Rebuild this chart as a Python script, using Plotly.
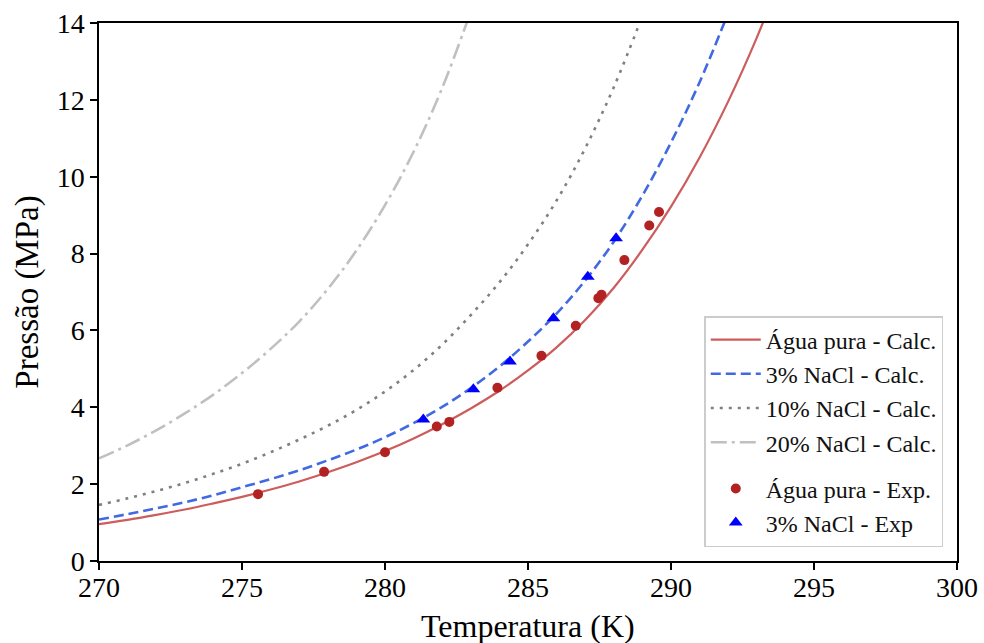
import plotly.graph_objects as go

# Calculated hydrate equilibrium curves (temperature in K, pressure in MPa)
T_agua_calc = [270, 271, 272, 273, 274, 275, 276, 277, 278, 279, 280, 281, 282,
               283, 284, 285, 286, 287, 288, 289, 290, 291, 292, 293, 294]
P_agua_calc = [0.96, 1.07, 1.20, 1.34, 1.50, 1.67, 1.86, 2.07, 2.31, 2.57, 2.86,
               3.19, 3.56, 3.97, 4.43, 4.96, 5.56, 6.27, 7.11, 8.10, 9.22, 10.50,
               11.96, 13.62, 15.50]

T_nacl3_calc = [270, 271, 272, 273, 274, 275, 276, 277, 278, 279, 280, 281, 282,
                283, 284, 285, 286, 287, 288, 289, 290, 291, 292]
P_nacl3_calc = [1.08, 1.22, 1.37, 1.53, 1.71, 1.92, 2.13, 2.36, 2.62, 2.90, 3.22,
                3.59, 4.01, 4.50, 5.06, 5.71, 6.44, 7.30, 8.31, 9.51, 10.89,
                12.46, 14.26]

T_nacl10_calc = [270, 271, 272, 273, 274, 275, 276, 277, 278, 279, 280, 281, 282,
                 283, 284, 285, 286, 287, 288, 289]
P_nacl10_calc = [1.46, 1.63, 1.82, 2.03, 2.27, 2.53, 2.83, 3.16, 3.52, 3.93, 4.41,
                 4.97, 5.63, 6.40, 7.25, 8.24, 9.38, 10.74, 12.33, 14.18]

T_nacl20_calc = [270, 271, 272, 273, 274, 275, 276, 277, 278, 279, 280, 281, 282, 283]
P_nacl20_calc = [2.67, 3.01, 3.40, 3.84, 4.33, 4.89, 5.52, 6.23, 7.08, 8.08, 9.26,
                 10.65, 12.31, 14.30]

# Experimental points
T_agua_exp = [275.56, 277.87, 280.0, 281.81, 282.25, 283.93, 285.47, 286.67,
              287.46, 287.57, 288.37, 289.24, 289.58]
P_agua_exp = [1.74, 2.32, 2.83, 3.50, 3.62, 4.51, 5.34, 6.12, 6.84, 6.93, 7.83,
              8.73, 9.08]

T_nacl3_exp = [281.34, 283.09, 284.37, 285.89, 287.09, 288.08]
P_nacl3_exp = [3.68, 4.47, 5.19, 6.32, 7.40, 8.40]

FONT = "Liberation Serif"

fig = go.Figure()

fig.add_trace(go.Scatter(
    x=T_agua_calc, y=P_agua_calc, mode="lines", name="Água pura - Calc.",
    line=dict(color="#CD5C5C", width=2.2, shape="spline"),
    legendgroup="calc"))
fig.add_trace(go.Scatter(
    x=T_nacl3_calc, y=P_nacl3_calc, mode="lines", name="3% NaCl - Calc.",
    line=dict(color="#4169E1", width=2.6, dash="10px,5px", shape="spline"),
    legendgroup="calc"))
fig.add_trace(go.Scatter(
    x=T_nacl10_calc, y=P_nacl10_calc, mode="lines", name="10% NaCl - Calc.",
    line=dict(color="#808080", width=2.6, dash="3px,6px", shape="spline"),
    legendgroup="calc"))
fig.add_trace(go.Scatter(
    x=T_nacl20_calc, y=P_nacl20_calc, mode="lines", name="20% NaCl - Calc.",
    line=dict(color="#C0C0C0", width=2.6, dash="16px,5px,3px,5px", shape="spline"),
    legendgroup="calc"))
fig.add_trace(go.Scatter(
    x=T_agua_exp, y=P_agua_exp, mode="markers", name="Água pura - Exp.",
    marker=dict(color="#B22222", size=10, symbol="circle"),
    legendgroup="exp"))
fig.add_trace(go.Scatter(
    x=T_nacl3_exp, y=P_nacl3_exp, mode="markers", name="3% NaCl - Exp",
    marker=dict(color="#0000FF", size=12, symbol="triangle-up"),
    legendgroup="exp"))

axis_common = dict(
    showline=True, linecolor="black", linewidth=1.5, mirror=True,
    ticks="outside", ticklen=7, tickwidth=1.5, tickcolor="black",
    showgrid=False, zeroline=False, automargin=False,
    tickfont=dict(family=FONT, size=28, color="black"),
)

fig.update_xaxes(
    range=[270, 300], tickmode="array", tickvals=[270, 275, 280, 285, 290, 295, 300],
    ticklabelstandoff=-6,
    **axis_common)
fig.update_yaxes(
    range=[0, 14], tickmode="array", tickvals=[0, 2, 4, 6, 8, 10, 12, 14],
    title=dict(text="Pressão (MPa)", font=dict(family=FONT, size=33, color="black"),
               standoff=8),
    **axis_common)

# x-axis title placed below the tick labels
fig.add_annotation(
    text="Temperatura (K)", xref="paper", yref="paper", x=0.5, y=-0.1199,
    xanchor="center", yanchor="middle", showarrow=False,
    font=dict(family=FONT, size=32, color="black"))

fig.update_layout(
    width=984, height=643,
    margin=dict(l=99, r=27, t=23, b=82),
    plot_bgcolor="white", paper_bgcolor="white",
    font=dict(family=FONT, color="black"),
    legend=dict(
        x=0.984, y=0.026, xanchor="right", yanchor="bottom",
        bgcolor="rgba(255,255,255,0.85)", bordercolor="#CCCCCC", borderwidth=1.5,
        font=dict(family=FONT, size=24, color="#111111"),
        traceorder="grouped", tracegroupgap=12, itemwidth=50,
    ),
    showlegend=True,
)

fig.write_html("out.html")
